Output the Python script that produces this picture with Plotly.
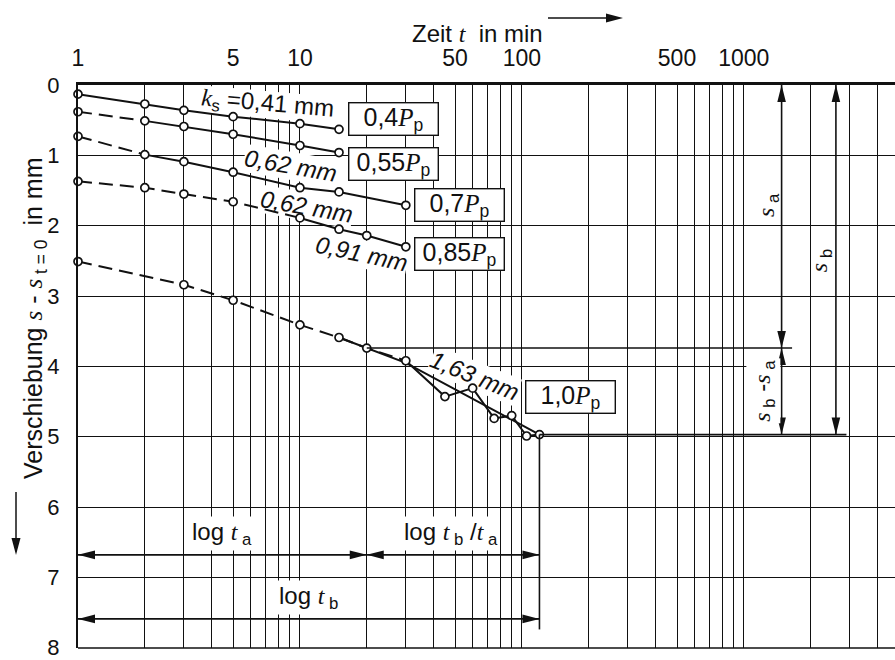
import numpy as np
import plotly.graph_objects as go

# ---- settlement readings per load stage (t in min, s in mm) ----
t_04 = [1, 2, 3, 5, 10, 15]
s_04 = [0.13, 0.27, 0.36, 0.45, 0.55, 0.63]
t_055 = [1, 2, 3, 5, 10, 15]
s_055 = [0.38, 0.51, 0.59, 0.70, 0.86, 0.96]
t_07 = [1, 2, 3, 5, 10, 15, 30]
s_07 = [0.73, 0.99, 1.09, 1.24, 1.46, 1.52, 1.71]
t_085 = [1, 2, 3, 5, 10, 15, 20, 30]
s_085 = [1.37, 1.46, 1.55, 1.66, 1.89, 2.05, 2.14, 2.30]
t_10 = [1, 3, 5, 10, 15, 20, 30, 45, 60, 75, 90, 105, 120]
s_10 = [2.51, 2.84, 3.06, 3.41, 3.59, 3.74, 3.92, 4.43, 4.31, 4.74, 4.70, 4.99, 4.97]
# smoothed creep line of the last stage
t_10_fit = [15, 20, 30, 120]
s_10_fit = [3.59, 3.74, 3.95, 4.97]

# index of the last point of the dashed (initial) part of each curve
series = [
    (t_04, s_04, 0),
    (t_055, s_055, 1),
    (t_07, s_07, 1),
    (t_085, s_085, 4),
    (t_10, s_10, 6),
]

# creep coefficients k_s written along the curves: text, t, s, angle, italic
ks_labels = [
    ("<span style='font-family:Liberation Serif'><i>k</i></span><sub>s</sub> =0,41 mm", 7.16, 0.28, 5, False),
    ("0,62 mm", 9.08, 1.15, 10, True),
    ("0,62 mm", 10.7, 1.73, 10, True),
    ("0,91 mm", 18.9, 2.40, 12, True),
    ("1,63 mm", 61.0, 4.13, 22, True),
]
ks_masks = [(150, 27), (94, 28), (94, 28), (94, 28), (92, 28)]

# load stages (fraction of P_p): text, t, s
load_labels = [
    ("0,4", 26.5, 0.49),
    ("0,55", 26.5, 1.13),
    ("0,7", 52.6, 1.70),
    ("0,85", 52.6, 2.40),
    ("1,0", 166.0, 4.44),
]

# evaluation of the last stage
t_a, t_b = 20, 120
s_a, s_b = 3.74, 4.97
t_dim_a, t_dim_b = 1480, 2600        # positions of the vertical dimension arrows
t_end_sa, t_end_sb = 1650, 2900      # ends of the horizontal reference lines
s_row_a, s_row_b = 6.68, 7.59        # rows of the log t dimension arrows
s_tb_end = 7.74

T_MAX = 4800
x_ticks = [1, 5, 10, 50, 100, 500, 1000]
x_ticktext = ["1", "5", "10", "50", "100", "500", "1000"]
x_minor = [m * d for d in (1, 10, 100, 1000) for m in range(2, 10)
           if m * d <= T_MAX and m * d not in x_ticks]
y_ticks = list(range(9))

SANS = "Liberation Sans"
SERIF = "Liberation Serif"
INK = "#111111"
LW = 2.0
TXT = 24

fig = go.Figure()

for t, s, k in series:
    if k > 0:
        fig.add_trace(go.Scatter(x=t[:k + 1], y=s[:k + 1], mode="lines",
                                 line=dict(color=INK, width=LW, dash="14px,7px"),
                                 cliponaxis=False, hoverinfo="skip"))
    fig.add_trace(go.Scatter(x=t[k:], y=s[k:], mode="lines",
                             line=dict(color=INK, width=LW),
                             cliponaxis=False, hoverinfo="skip"))

fig.add_trace(go.Scatter(x=t_10_fit, y=s_10_fit, mode="lines",
                         line=dict(color=INK, width=LW), hoverinfo="skip"))

for t, s, k in series:
    fig.add_trace(go.Scatter(x=t, y=s, mode="markers", cliponaxis=False,
                             marker=dict(symbol="circle", size=8, color="white",
                                         line=dict(color=INK, width=1.7)),
                             hoverinfo="skip"))

# dimension lines
dim_lines = [
    ([t_a, t_end_sa], [s_a, s_a]),
    ([t_b, t_end_sb], [s_b, s_b]),
    ([t_dim_a, t_dim_a], [0, s_b]),
    ([t_dim_b, t_dim_b], [0, s_b]),
    ([1, t_b], [s_row_a, s_row_a]),
    ([1, t_b], [s_row_b, s_row_b]),
    ([t_b, t_b], [s_b, s_tb_end]),
]
for xs, ys in dim_lines:
    fig.add_trace(go.Scatter(x=xs, y=ys, mode="lines", cliponaxis=False,
                             line=dict(color=INK, width=1.6), hoverinfo="skip"))

shapes = []


def head(xa, ya, direction, xref="x", yref="y", L=17, W=4.3):
    """Filled arrow head with its tip at (xa, ya); sizes in pixels."""
    paths = {
        "right": f"M0,0L{-L},{W}L{-L},{-W}Z",
        "left": f"M0,0L{L},{W}L{L},{-W}Z",
        "up": f"M0,0L{-W},{-L}L{W},{-L}Z",
        "down": f"M0,0L{-W},{L}L{W},{L}Z",
    }
    return dict(type="path", xref=xref, yref=yref, xsizemode="pixel",
                ysizemode="pixel", xanchor=xa, yanchor=ya,
                path=paths[direction], fillcolor=INK,
                line=dict(width=0), layer="above")


shapes += [
    head(t_dim_a, 0, "up"), head(t_dim_a, s_a, "down"),
    head(t_dim_a, s_a, "up"), head(t_dim_a, s_b, "down"),
    head(t_dim_b, 0, "up"), head(t_dim_b, s_b, "down"),
    head(1, s_row_a, "left"), head(t_a, s_row_a, "right"),
    head(t_a, s_row_a, "left"), head(t_b, s_row_a, "right"),
    head(1, s_row_b, "left"), head(t_b, s_row_b, "right"),
]


def rot_rect(w, h, ang):
    a = np.radians(ang)
    pts = []
    for x, y in [(-w / 2, -h / 2), (w / 2, -h / 2), (w / 2, h / 2), (-w / 2, h / 2)]:
        xr = x * np.cos(a) - y * np.sin(a)
        yr = x * np.sin(a) + y * np.cos(a)
        pts.append((xr, -yr))
    return "M" + "L".join(f"{x:.1f},{y:.1f}" for x, y in pts) + "Z"


# white backing behind the k_s labels: hides grid lines, keeps the curves
for (txt, t, s, ang, it), (w, h) in zip(ks_labels, ks_masks):
    shapes.append(dict(type="path", xref="x", yref="y", xsizemode="pixel",
                       ysizemode="pixel", xanchor=t, yanchor=s,
                       path=rot_rect(w, h, ang), fillcolor="white",
                       line=dict(width=0), layer="between"))

# plot frame bottom edge
shapes.append(dict(type="line", xref="paper", yref="paper", x0=0, x1=1, y0=0, y1=0,
                   line=dict(color=INK, width=1.7), layer="above"))

# axis-title arrows (paper space)
W_PLOT, H_PLOT, L0, T0, B0 = 817, 563, 78, 85, 12


def px(x):
    return (x - L0) / W_PLOT


def py(y):
    return 1 - (y - T0) / H_PLOT


shapes.append(dict(type="line", xref="paper", yref="paper", x0=px(548), x1=px(612),
                   y0=py(18), y1=py(18), line=dict(color=INK, width=1.5)))
shapes.append(head(px(623), py(18), "right", xref="paper", yref="paper", L=17, W=4.5))
shapes.append(dict(type="line", xref="paper", yref="paper", x0=px(16), x1=px(16),
                   y0=py(492), y1=py(540), line=dict(color=INK, width=1.5)))
shapes.append(head(px(16), py(555), "down", xref="paper", yref="paper", L=17, W=4.5))

annotations = []
for txt, t, s, ang, it in ks_labels:
    annotations.append(dict(x=np.log10(t), y=s, xref="x", yref="y", text=txt,
                            showarrow=False, textangle=ang,
                            font=dict(family=SANS, size=TXT, color=INK,
                                      style="italic" if it else "normal")))

for frac, t, s in load_labels:
    annotations.append(dict(
        x=np.log10(t), y=s, xref="x", yref="y",
        text=f"{frac}<span style='font-family:{SERIF}'><i>P</i></span><sub>p</sub>",
        showarrow=False, bgcolor="white", bordercolor=INK, borderwidth=1.4,
        borderpad=0, width=88, height=31,
        font=dict(family=SANS, size=25, color=INK)))

it_t = f"<span style='font-family:{SERIF}'><i>t</i></span>"
it_s = f"<span style='font-family:{SERIF}'><i>s</i></span>"
dim_labels = [
    (f"log {it_t}<sub> a</sub>", 4.47, 6.37, 0, True),
    (f"log {it_t}<sub> b</sub>", 10.9, 7.28, 0, True),
    (f"log {it_t}<sub> b</sub> /{it_t}<sub> a</sub>", 47.9, 6.37, 0, True),
    (f"{it_s}<sub> a</sub>", 1283, 1.71, -90, False),
    (f"{it_s}<sub> b</sub>", 2234, 2.50, -90, False),
    (f"{it_s}<sub> b</sub> -{it_s}<sub> a</sub>", 1231, 4.35, -90, True),
]
for txt, t, s, ang, bg in dim_labels:
    annotations.append(dict(x=np.log10(t), y=s, xref="x", yref="y", text=txt,
                            showarrow=False, textangle=ang,
                            bgcolor="white" if bg else None,
                            font=dict(family=SANS, size=TXT, color=INK)))

annotations.append(dict(x=px(477), y=py(18), xref="paper", yref="paper",
                        text=f"Zeit&nbsp;{it_t}&nbsp;&nbsp;in min", showarrow=False,
                        font=dict(family=SANS, size=TXT, color=INK)))
annotations.append(dict(x=px(17), y=py(318), xref="paper", yref="paper",
                        text=f"Verschiebung&nbsp;{it_s}&nbsp;-&nbsp;{it_s}<sub>&nbsp;t = 0</sub>&nbsp;&nbsp;in mm",
                        showarrow=False, textangle=-90,
                        font=dict(family=SANS, size=25, color=INK)))

fig.update_layout(
    width=895, height=660,
    margin=dict(l=L0, r=0, t=T0, b=B0, autoexpand=False),
    plot_bgcolor="white", paper_bgcolor="white",
    showlegend=False,
    font=dict(family=SANS, size=TXT, color=INK),
    shapes=shapes, annotations=annotations,
    xaxis=dict(type="log", range=[0, np.log10(T_MAX)], side="top",
               tickvals=x_ticks, ticktext=x_ticktext, ticks="",
               showline=True, linewidth=2.7, linecolor=INK, automargin=False,
               showgrid=True, gridcolor=INK, gridwidth=1.3, zeroline=False,
               ticklabelstandoff=7, ticklabeloverflow="allow",
               minor=dict(tickvals=x_minor, showgrid=True, gridcolor=INK,
                          gridwidth=1.3, ticks=""),
               tickfont=dict(family=SANS, size=23, color=INK)),
    yaxis=dict(range=[8.004, 0], tickvals=y_ticks, ticks="",
               showline=True, linewidth=2.2, linecolor=INK, automargin=False,
               showgrid=True, gridcolor=INK, gridwidth=1.3, zeroline=False,
               ticklabelstandoff=12, ticklabeloverflow="allow",
               tickfont=dict(family=SANS, size=22, color=INK)),
)

fig.write_html("out.html")
